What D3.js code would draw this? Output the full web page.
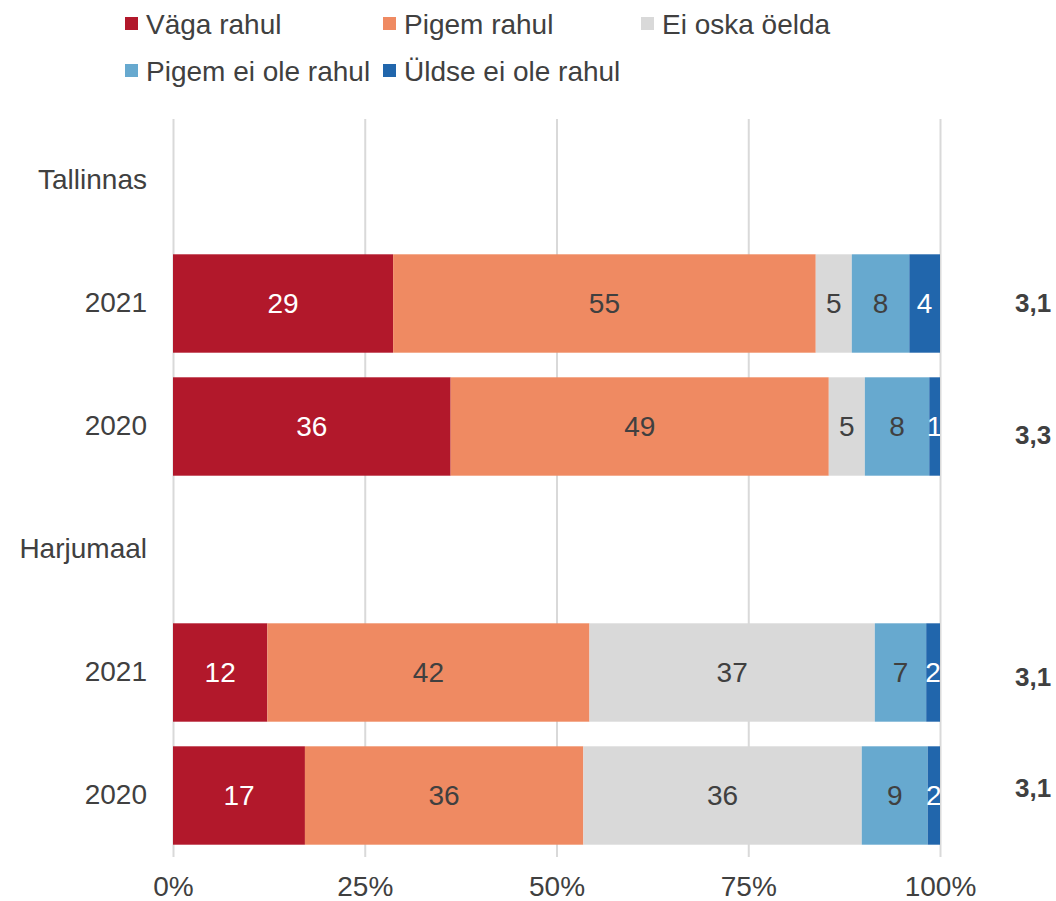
<!DOCTYPE html>
<html>
<head>
<meta charset="utf-8">
<script src="https://cdn.jsdelivr.net/npm/d3@7"></script>
<style>
  body { margin: 0; background: #fff; }
  svg { display: block; font-family: "Liberation Sans", Arial, sans-serif; }
</style>
</head>
<body>
<script>
(function (){

    //chart values (shares in % of each row)
    var rowLabels = ["Tallinnas", "2021", "2020", "Harjumaal", "2021", "2020"];
    var rowIsHeader = [true, false, false, true, false, false];
    var seriesNames = ["Väga rahul", "Pigem rahul", "Ei oska öelda", "Pigem ei ole rahul", "Üldse ei ole rahul"];
    var vagaRahul = [null, 28.7, 36.2, null, 12.3, 17.2];
    var pigemRahul = [null, 55.1, 49.3, null, 42.0, 36.3];
    var eiOskaOelda = [null, 4.7, 4.7, null, 37.2, 36.3];
    var pigemEiOleRahul = [null, 7.5, 8.4, null, 6.7, 8.6];
    var uldseEiOleRahul = [null, 4.0, 1.4, null, 1.8, 1.6];
    var scores = ["", "3,1", "3,3", "", "3,1", "3,1"];
    var tickValues = [0, 25, 50, 75, 100];

    var seriesColors = ["#b2182b", "#ef8a62", "#d9d9d9", "#67a9cf", "#2166ac"];
    var labelColors = ["#ffffff", "#404040", "#404040", "#404040", "#ffffff"];
    var textColor = "#404040";

    //frame
    var width = 1056, height = 901;
    var plotLeft = 173, plotRight = 940, plotTop = 119, plotBottom = 857;

    var svg = d3.select("body")
        .append("svg")
        .attr("width", width)
        .attr("height", height);

    //build the table the stack needs
    var seriesValues = [vagaRahul, pigemRahul, eiOskaOelda, pigemEiOleRahul, uldseEiOleRahul];
    var rows = [];
    for (var i = 0; i < rowLabels.length; i++){
        if (rowIsHeader[i]) continue;
        var row = {index: i};
        seriesNames.forEach(function(name, j){ row[name] = seriesValues[j][i]; });
        rows.push(row);
    }
    var stacked = d3.stack().keys(seriesNames)(rows);

    //scales
    var x = d3.scaleLinear()
        .domain([0, 100])
        .range([plotLeft, plotRight]);

    var y = d3.scaleBand()
        .domain(d3.range(rowLabels.length))
        .range([plotTop, plotBottom])
        .paddingInner(0.2)
        .paddingOuter(0.1);

    //gridlines + percent labels
    var xAxis = svg.append("g")
        .attr("class", "xAxis")
        .attr("transform", "translate(0," + plotBottom + ")")
        .call(d3.axisBottom(x)
            .tickValues(tickValues)
            .tickFormat(function(d){ return d + "%"; })
            .tickSizeInner(-(plotBottom - plotTop))
            .tickSizeOuter(0)
            .tickPadding(19));
    xAxis.select(".domain").remove();
    xAxis.selectAll("line")
        .attr("stroke", "#d9d9d9")
        .attr("stroke-width", 2);
    xAxis.selectAll("text")
        .attr("fill", textColor)
        .style("font-size", "28px");

    //row labels
    var yAxis = svg.append("g")
        .attr("class", "yAxis")
        .attr("transform", "translate(" + plotLeft + ",0)")
        .call(d3.axisLeft(y)
            .tickFormat(function(i){ return rowLabels[i]; })
            .tickSize(0)
            .tickPadding(26));
    yAxis.select(".domain").remove();
    yAxis.selectAll("text")
        .attr("fill", textColor)
        .style("font-size", "28px");

    //stacked bars
    var layers = svg.selectAll(".layer")
        .data(stacked)
        .enter()
        .append("g")
        .attr("class", "layer")
        .attr("fill", function(d, i){ return seriesColors[i]; });

    layers.selectAll("rect")
        .data(function(d){ return d; })
        .enter()
        .append("rect")
        .attr("x", function(d){ return x(d[0]); })
        .attr("width", function(d){ return x(d[1]) - x(d[0]); })
        .attr("y", function(d){ return y(d.data.index); })
        .attr("height", y.bandwidth());

    //value labels, cut at the 100% edge
    svg.append("clipPath")
        .attr("id", "plotClip")
        .append("rect")
        .attr("x", plotLeft)
        .attr("y", plotTop)
        .attr("width", plotRight - plotLeft)
        .attr("height", plotBottom - plotTop);

    var labelLayers = svg.append("g")
        .attr("clip-path", "url(#plotClip)")
        .selectAll(".labels")
        .data(stacked)
        .enter()
        .append("g")
        .attr("class", "labels")
        .attr("fill", function(d, i){ return labelColors[i]; });

    labelLayers.selectAll("text")
        .data(function(d){ return d; })
        .enter()
        .append("text")
        .attr("x", function(d){ return (x(d[0]) + x(d[1])) / 2; })
        .attr("y", function(d){ return y(d.data.index) + y.bandwidth() / 2; })
        .attr("dy", "0.35em")
        .attr("text-anchor", "middle")
        .style("font-size", "28px")
        .text(function(d){ return Math.round(d[1] - d[0]); });

    //average scores on the right (sitting a little off the bar centres, as in the source)
    var scoreNudge = [0, -1, 8, 0, 4, -8];
    svg.selectAll(".score")
        .data(d3.range(rowLabels.length).filter(function(i){ return scores[i]; }))
        .enter()
        .append("text")
        .attr("class", "score")
        .attr("x", 1015)
        .attr("y", function(i){ return y(i) + y.bandwidth() / 2 + scoreNudge[i]; })
        .attr("dy", "0.35em")
        .attr("fill", textColor)
        .style("font-size", "26px")
        .style("font-weight", "bold")
        .text(function(i){ return scores[i]; });

    //legend, three columns
    var legend = svg.selectAll(".legendItem")
        .data(seriesNames)
        .enter()
        .append("g")
        .attr("class", "legendItem")
        .attr("transform", function(d, i){
            return "translate(" + (125 + (i % 3) * 258) + "," + (24 + Math.floor(i / 3) * 47) + ")";
        });

    legend.append("rect")
        .attr("x", 0)
        .attr("y", -7)
        .attr("width", 13)
        .attr("height", 13)
        .attr("fill", function(d, i){ return seriesColors[i]; });

    legend.append("text")
        .attr("x", 21)
        .attr("dy", "0.35em")
        .attr("fill", textColor)
        .style("font-size", "28px")
        .text(function(d){ return d; });

})();
</script>
</body>
</html>
